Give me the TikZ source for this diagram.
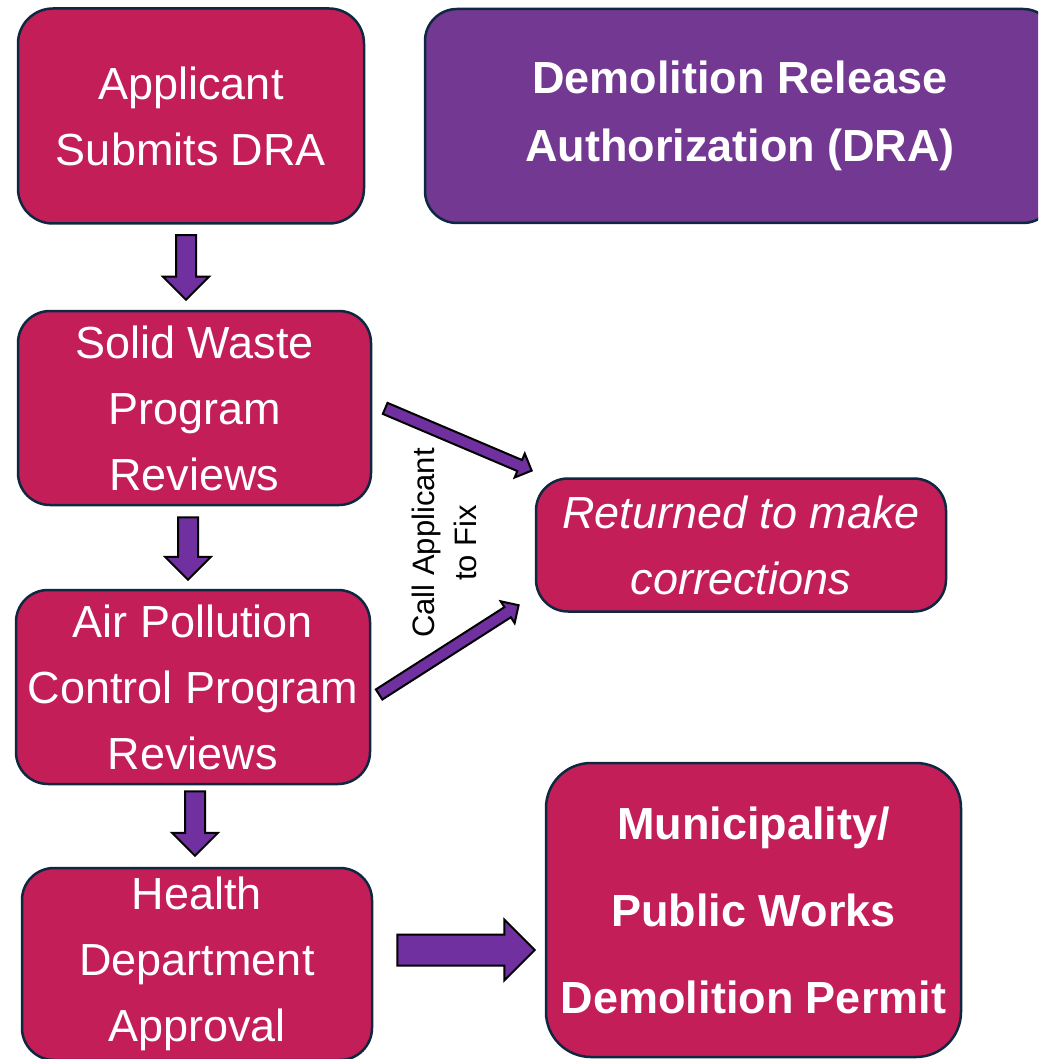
\documentclass[tikz,border=0pt]{standalone}
\usepackage{fontspec}
\setmainfont{Liberation Sans}
\usetikzlibrary{shapes.arrows,calc}

\definecolor{crimson}{RGB}{196,30,88}
\definecolor{dragrape}{RGB}{115,56,146}
\definecolor{arrpurple}{RGB}{112,48,160}
\definecolor{edgeblue}{RGB}{14,40,65}

% block arrow between two points: from, to, half shaft, head extend
\newcommand{\blockarr}[4]{%
  \path let \p1=($(#2)-(#1)$), \n1={veclen(\x1,\y1)} in
    (#1) -- (#2) node[pos=0,sloped,allow upside down,anchor=tail,bigarr,
      minimum height=\n1,inner ysep=#3,single arrow head extend=#4] {};}

\begin{document}
\begin{tikzpicture}[x=1pt,y=-1pt,
    box/.style={draw=edgeblue,line width=2.5pt,fill=crimson,rounded corners=32pt,
      text=white,align=center,inner sep=0pt,font=\fontsize{45}{66}\selectfont},
    bigarr/.style={single arrow,draw=black,fill=arrpurple,line width=2pt,
      inner xsep=0pt,single arrow head indent=0pt}]
    \useasboundingbox (0,0) rectangle (1038,1059);
    \clip (0,0) rectangle (1038,1059);

    \node[box,minimum width=346pt,minimum height=215pt,rounded corners=35pt] (submit) at (191,116) {Applicant\\Submits DRA};
    \node[box,fill=dragrape,minimum width=630pt,minimum height=214pt,
      font=\bfseries\fontsize{45}{68}\selectfont] (dra) at (740,116) {Demolition Release\\Authorization (DRA)};
    \node[box,minimum width=353pt,minimum height=194pt] (solid) at (194.5,408) {Solid Waste\\Program\\Reviews};
    \node[box,minimum width=354pt,minimum height=194pt] (air) at (193,687) {Air Pollution\\Control Program\\Reviews};
    \node[box,minimum width=350pt,minimum height=192pt] (health) at (197,964) {Health\\Department\\Approval};
    \node[box,minimum width=410pt,minimum height=133pt,
      font=\itshape\fontsize{45}{66}\selectfont] (returned) at (741,545) {Returned to make\\corrections};
    \node[box,minimum width=415pt,minimum height=294pt,rounded corners=45pt,
      font=\bfseries\fontsize{45}{87}\selectfont] (permit) at (753.5,910) {Municipality/\\Public Works\\Demolition Permit};
    \node[rotate=90,align=center,font=\fontsize{31}{42}\selectfont] (fix) at (444,543) {Call Applicant\\to Fix};

    % down the left column
    \blockarr{[xshift=-5pt,yshift=-9.5pt]submit.south}{[xshift=-8.5pt,yshift=11pt]solid.north}{9pt}{13pt}
    \blockarr{[xshift=-6.5pt,yshift=-10pt]solid.south}{[xshift=-5pt,yshift=10pt]air.north}{9pt}{13pt}
    \blockarr{[xshift=2pt,yshift=-5pt]air.south}{[xshift=-2pt,yshift=12pt]health.north}{9pt}{13pt}
    % to the permit
    \blockarr{[xshift=23pt,yshift=14pt]health.east}{[xshift=-11pt,yshift=-40pt]permit.west}{14.5pt}{15pt}
    % back for corrections
    \blockarr{[xshift=12pt,yshift=0pt]solid.east}{[xshift=-4pt,yshift=7pt]returned.north west}{5pt}{7pt}
    \blockarr{[xshift=7pt,yshift=-8pt]air.east}{[xshift=-17pt,yshift=7pt]returned.south west}{5pt}{7pt}
\end{tikzpicture}
\end{document}
